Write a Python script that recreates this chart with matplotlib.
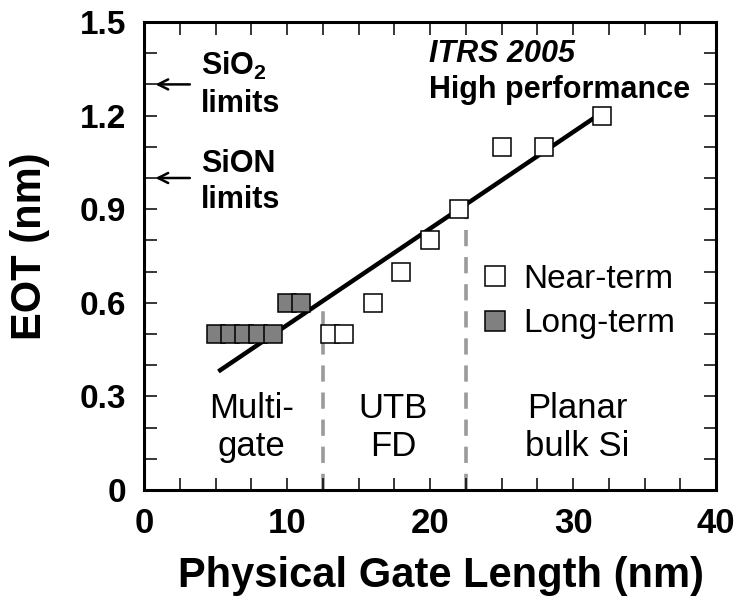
import matplotlib
matplotlib.use("Agg")
import matplotlib.pyplot as plt
from matplotlib.lines import Line2D
from matplotlib.ticker import MultipleLocator

plt.rcParams['font.family'] = ['Liberation Sans', 'DejaVu Sans']
plt.rcParams['mathtext.fontset'] = 'custom'
plt.rcParams['mathtext.rm'] = 'Liberation Sans'
plt.rcParams['mathtext.bf'] = 'Liberation Sans:bold'

# ITRS 2005 EOT targets vs physical gate length
near_x = [13, 14, 16, 18, 20, 22, 25, 28, 32]
near_y = [0.5, 0.5, 0.6, 0.7, 0.8, 0.9, 1.1, 1.1, 1.2]
long_x = [5, 6, 7, 8, 9, 10, 11]
long_y = [0.5, 0.5, 0.5, 0.5, 0.5, 0.6, 0.6]

# trend line end points
fit_x = [5.2, 32.2]
fit_y = [0.38, 1.215]

# device region borders
border_x = [12.5, 22.5]

region_names = ["Multi-\ngate", "UTB\nFD", "Planar\nbulk Si"]
region_x = [7.5, 17.4, 30.3]

limit_y = [1.3, 1.0]


def trend(x):
    return fit_y[0] + (x - fit_x[0]) * (fit_y[1] - fit_y[0]) / (fit_x[1] - fit_x[0])


fig = plt.figure(figsize=(7.4, 6.06), dpi=100)
ax = fig.add_axes([0.1946, 0.1914, 0.773, 0.7723])

for bx in border_x:
    ax.plot([bx, bx], [0, trend(bx)], color="#9a9a9a", lw=2.6,
            dashes=(4.5, 3), zorder=1)

ax.plot(fit_x, fit_y, color="black", lw=3.2, solid_capstyle="butt", zorder=2)

ax.plot(long_x, long_y, ls="none", marker="s", ms=13, mfc="#808080",
        mec="black", mew=1.1, zorder=3)
ax.plot(near_x, near_y, ls="none", marker="s", ms=13, mfc="white",
        mec="black", mew=1.1, zorder=3)

ax.set_xlim(0, 40)
ax.set_ylim(0, 1.5)
ax.xaxis.set_major_locator(MultipleLocator(10))
ax.xaxis.set_minor_locator(MultipleLocator(2.5))
ax.yaxis.set_minor_locator(MultipleLocator(0.1))
ax.set_yticks([0, 0.3, 0.6, 0.9, 1.2, 1.5])
ax.set_yticklabels(["0", "0.3", "0.6", "0.9", "1.2", "1.5"])

ax.tick_params(which="both", direction="in", top=True, right=True,
               length=9, width=1.1)
ax.tick_params(axis="x", labelsize=25, pad=12)
ax.tick_params(axis="y", labelsize=24, pad=13)
for lab in ax.get_xticklabels() + ax.get_yticklabels():
    lab.set_fontweight("bold")
for sp in ax.spines.values():
    sp.set_linewidth(2.2)

ax.set_xlabel("Physical Gate Length (nm)", fontsize=30, fontweight="bold")
ax.set_ylabel("EOT (nm)", fontsize=30, fontweight="bold")
ax.xaxis.set_label_coords(0.52, -0.14)
ax.yaxis.set_label_coords(-0.165, 0.52)

# region labels
for name, rx in zip(region_names, region_x):
    ax.text(rx, 0.2, name, fontsize=25, ha="center", va="center",
            linespacing=1.2)

# dielectric limits with arrows
for ly in limit_y:
    ax.annotate("", xy=(0.6, ly), xytext=(3.4, ly),
                arrowprops=dict(arrowstyle="->", lw=1.8, color="black",
                                mutation_scale=18))
ax.text(4.0, 1.33, r"$\mathbf{SiO_2}$", fontsize=22, va="baseline")
ax.text(4.0, 1.21, "limits", fontsize=22, fontweight="bold", va="baseline")
ax.text(4.0, 1.02, "SiON", fontsize=22, fontweight="bold", va="baseline")
ax.text(4.0, 0.905, "limits", fontsize=22, fontweight="bold", va="baseline")

ax.text(19.9, 1.372, "ITRS 2005", fontsize=22, fontweight="bold",
        style="italic", va="baseline")
ax.text(19.9, 1.256, "High performance", fontsize=22, fontweight="bold",
        va="baseline")

handles = [
    Line2D([], [], ls="none", marker="s", ms=14, mfc="white", mec="black", mew=1.1),
    Line2D([], [], ls="none", marker="s", ms=14, mfc="#808080", mec="black", mew=1.1),
]
ax.legend(handles, ["Near-term", "Long-term"], loc="upper left",
          bbox_to_anchor=(0.575, 0.497), frameon=False, fontsize=24,
          handlelength=0.9, handletextpad=0.4, labelspacing=0.4,
          borderpad=0.2, borderaxespad=0)

fig.savefig("out.png", dpi=100)
